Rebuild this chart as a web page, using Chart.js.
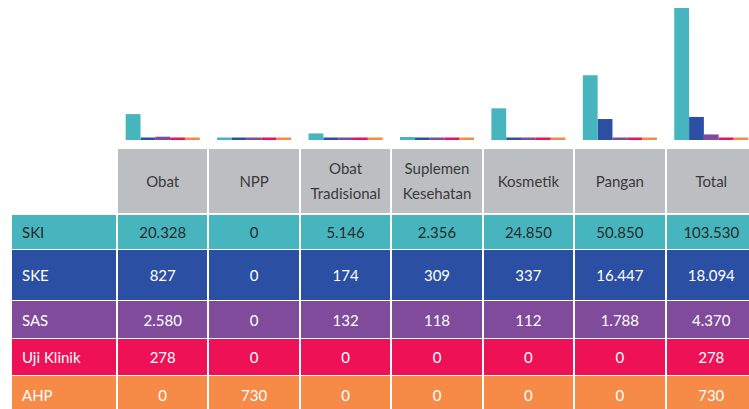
<!DOCTYPE html>
<html>
<head>
<meta charset="utf-8">
<script src="https://cdn.jsdelivr.net/npm/chart.js@4/dist/chart.umd.min.js"></script>
<style>
  html, body { margin: 0; padding: 0; background: #fff; }
  body { width: 749px; height: 409px; overflow: hidden; position: relative; font-family: Lato, "Open Sans", sans-serif; }
  #wadah-grafik { position: absolute; left: 117px; top: 0; width: 640px; height: 140px; }
  .sel { position: absolute; display: flex; align-items: center; justify-content: center; font-size: 15px; box-sizing: border-box; }
  .sel.label { justify-content: flex-start; padding-left: 10px; }
  .sel.kepala { background: #bdbec2; color: #3a3a3c; white-space: pre-line; text-align: center; line-height: 25px; }
</style>
</head>
<body>
<div id="wadah-grafik"><canvas id="grafik"></canvas></div>
<div id="tabel"></div>
<script>
// Data dari tabel
const kategori = ['Obat', 'NPP', 'Obat\nTradisional', 'Suplemen\nKesehatan', 'Kosmetik', 'Pangan', 'Total'];
const seri = ['SKI', 'SKE', 'SAS', 'Uji Klinik', 'AHP'];
const nilaiSKI = [20328, 0, 5146, 2356, 24850, 50850, 103530];
const nilaiSKE = [827, 0, 174, 309, 337, 16447, 18094];
const nilaiSAS = [2580, 0, 132, 118, 112, 1788, 4370];
const nilaiUjiKlinik = [278, 0, 0, 0, 0, 0, 278];
const nilaiAHP = [0, 730, 0, 0, 0, 0, 730];

const warna = ['#47b5be', '#2b50a3', '#814b9b', '#ef1156', '#f58b47'];
const warnaTeks = ['#2a2a2a', '#ffffff', '#ffffff', '#ffffff', '#ffffff'];
const semuaNilai = [nilaiSKI, nilaiSKE, nilaiSAS, nilaiUjiKlinik, nilaiAHP];

function formatAngka(v) {
  return String(v).replace(/\B(?=(\d{3})+(?!\d))/g, '.');
}

function gambarGrafik() {
  const ctx = document.getElementById('grafik').getContext('2d');
  new Chart(ctx, {
    type: 'bar',
    data: {
      labels: kategori,
      datasets: seri.map((nama, i) => ({
        label: nama,
        data: semuaNilai[i],
        backgroundColor: warna[i],
        borderWidth: 0,
        minBarLength: 2.5,
        categoryPercentage: 0.81,
        barPercentage: 1
      }))
    },
    options: {
      responsive: true,
      maintainAspectRatio: false,
      animation: false,
      layout: { padding: 0 },
      plugins: { legend: { display: false }, tooltip: { enabled: false } },
      scales: {
        x: { display: false },
        y: { display: false, min: 0, max: 109800 }
      }
    }
  });
}

function buatTabel() {
  const tabel = document.getElementById('tabel');
  // batas kolom: kolom label, lalu 7 kolom selebar kategori grafik
  const lebarKol = 640 / kategori.length;
  const kolX = [12, 117];
  for (let i = 1; i <= kategori.length; i++) kolX.push(117 + i * lebarKol);
  // batas baris
  const baris = [[149, 213], [215, 249], [250, 300], [301, 338], [339, 375], [376, 414]];

  function sel(teks, c, r, kelas, bg, fg) {
    const d = document.createElement('div');
    d.className = 'sel ' + kelas;
    const x0 = c === 0 ? kolX[0] : kolX[c] + 1;
    const x1 = kolX[c + 1] - 1;
    d.style.left = x0 + 'px';
    d.style.width = (x1 - x0) + 'px';
    d.style.top = baris[r][0] + 'px';
    d.style.height = (baris[r][1] - baris[r][0]) + 'px';
    if (bg) d.style.background = bg;
    if (fg) d.style.color = fg;
    d.textContent = teks;
    tabel.appendChild(d);
  }

  kategori.forEach((k, j) => sel(k, j + 1, 0, 'kepala'));
  seri.forEach((nama, i) => {
    sel(nama, 0, i + 1, 'label', warna[i], warnaTeks[i]);
    semuaNilai[i].forEach((v, j) => sel(formatAngka(v), j + 1, i + 1, '', warna[i], warnaTeks[i]));
  });
}

gambarGrafik();
buatTabel();
</script>
</body>
</html>
